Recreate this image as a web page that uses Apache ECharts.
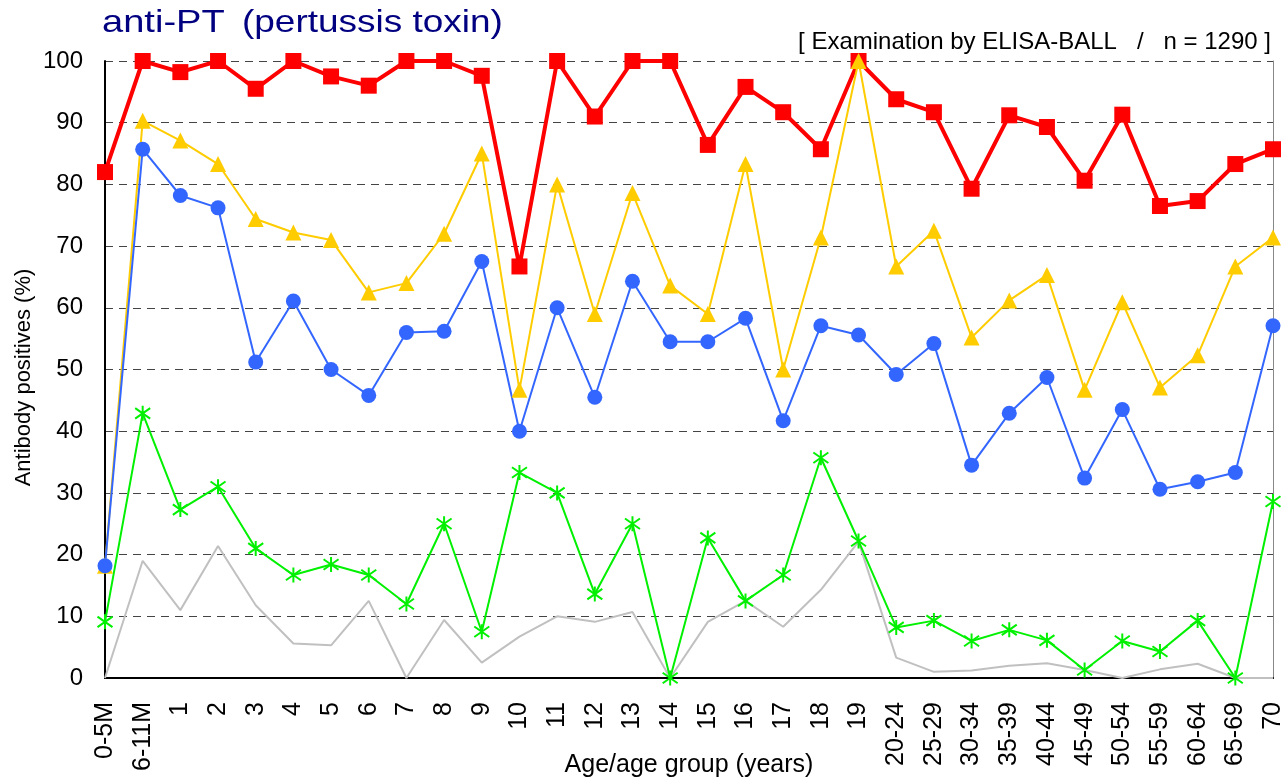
<!DOCTYPE html>
<html>
<head>
<meta charset="utf-8">
<script src="https://cdn.jsdelivr.net/npm/echarts@6/dist/echarts.min.js"></script>
<style>
html,body{margin:0;padding:0;background:#fff;}
#chart{width:1285px;height:783px;}
</style>
</head>
<body>
<div id="chart"></div>
<script>
const categories = ['0-5M','6-11M','1','2','3','4','5','6','7','8','9','10','11','12','13','14','15','16','17','18','19','20-24','25-29','30-34','35-39','40-44','45-49','50-54','55-59','60-64','65-69','70'];
const yTicks = [0,10,20,30,40,50,60,70,80,90,100];
const redSeries = [82,100,98.2,100,95.5,100,97.5,96,100,100,97.6,66.7,100,91,100,100,86.4,95.8,91.7,85.7,100,93.8,91.7,79.3,91.2,89.3,80.6,91.3,76.5,77.3,83.3,85.7];
const yellowSeries = [18.2,90.3,87.1,83.3,74.4,72.2,71,62.5,64,72,85,46.7,80,59,78.6,63.6,59,83.3,50,71.4,100,66.7,72.5,55.2,61.2,65.3,46.7,60.9,47.1,52.3,66.7,71.4];
const blueSeries = [18.2,85.7,78.2,76.2,51.2,61.1,50,45.8,56,56.2,67.5,40,60,45.5,64.3,54.5,54.5,58.3,41.7,57.1,55.6,49.2,54.2,34.5,42.9,48.7,32.4,43.5,30.6,31.8,33.3,57.1];
const greenSeries = [9.1,42.9,27.3,31,21,16.7,18.4,16.7,12,25,7.5,33.3,30,13.6,25,0,22.7,12.5,16.7,35.7,22.2,8.2,9.3,6,7.8,6.1,1.3,6,4.3,9.3,0,28.6];
const graySeries = [0,19,11,21.4,11.8,5.6,5.3,12.5,0,9.4,2.5,6.7,10,9.1,10.7,0,9.1,12.5,8.3,14.3,22.1,3.3,1,1.2,2,2.4,1.3,0,1.4,2.3,0,0];

const FONT = '"Liberation Sans", Arial, sans-serif';
const chart = echarts.init(document.getElementById('chart'));
const asterisk = 'path://M5,0 L5,10 M0,1.5 L10,8.5 M10,1.5 L0,8.5';

chart.setOption({
  animation: false,
  backgroundColor: '#fff',
  graphic: [{
    type: 'text', x: 102, y: 23, scaleX: 1.19,
    style: {text: 'anti-PT', font: '32px ' + FONT, fill: '#000080', textAlign: 'left', textVerticalAlign: 'middle'}
  }, {
    type: 'text', x: 242, y: 23, scaleX: 1.155,
    style: {text: '(pertussis toxin)', font: '32px ' + FONT, fill: '#000080', textAlign: 'left', textVerticalAlign: 'middle'}
  }, {
    type: 'text', x: 1271, y: 42,
    style: {text: '[ Examination by ELISA-BALL   /   n = 1290 ]', font: '24px ' + FONT, fill: '#000', textAlign: 'right', textVerticalAlign: 'middle'}
  }],
  grid: {left: 105, right: 12, top: 61, bottom: 105, containLabel: false, outerBoundsMode: 'none'},
  xAxis: [{
    type: 'category', data: categories, boundaryGap: false,
    axisLine: {show: true, lineStyle: {color: '#000', width: 2}},
    axisTick: {show: false},
    axisLabel: {rotate: 90, fontFamily: FONT, fontSize: 25, color: '#000', margin: 24, interval: 0},
    splitLine: {show: false},
    name: 'Age/age group (years)', nameLocation: 'middle', nameGap: 75, nameMoveOverlap: false,
    nameTextStyle: {fontFamily: FONT, fontSize: 25, color: '#000'}
  }, {
    type: 'category', data: categories, boundaryGap: false, position: 'top',
    axisLine: {show: true, lineStyle: {color: '#000', width: 1}},
    axisTick: {show: false}, axisLabel: {show: false}, splitLine: {show: false}
  }],
  yAxis: [{
    type: 'value', min: 0, max: 100, interval: 10,
    axisLine: {show: true, lineStyle: {color: '#000', width: 2}},
    axisTick: {show: false},
    axisLabel: {fontFamily: FONT, fontSize: 24, color: '#000', margin: 22,
      formatter: v => yTicks.includes(v) ? String(v) : ''},
    splitLine: {show: true, lineStyle: {color: '#444', width: 1, type: [8, 6]}},
    name: 'Antibody positives (%)', nameLocation: 'middle', nameGap: 70, nameMoveOverlap: false,
    nameTextStyle: {fontFamily: FONT, fontSize: 22, color: '#000', padding: [0, 16, 0, 0]}
  }, {
    type: 'value', min: 0, max: 100, interval: 10, position: 'right',
    axisLine: {show: true, lineStyle: {color: '#888', width: 1}},
    axisTick: {show: false}, axisLabel: {show: false}, splitLine: {show: false}
  }],
  series: [{
    name: 'gray', type: 'line', data: graySeries, symbol: 'none',
    lineStyle: {color: '#C0C0C0', width: 2}
  }, {
    name: 'green', type: 'line', data: greenSeries, symbol: asterisk, symbolSize: 15,
    lineStyle: {color: '#00F000', width: 2},
    itemStyle: {color: 'none', borderColor: '#00F000', borderWidth: 2}
  }, {
    name: 'red', type: 'line', data: redSeries, symbol: 'rect', symbolSize: 16,
    lineStyle: {color: '#FF0000', width: 4},
    itemStyle: {color: '#FF0000'}
  }, {
    name: 'yellow', type: 'line', data: yellowSeries, symbol: 'triangle', symbolSize: 16,
    lineStyle: {color: '#FFCC00', width: 2},
    itemStyle: {color: '#FFCC00'}
  }, {
    name: 'blue', type: 'line', data: blueSeries, symbol: 'circle', symbolSize: 15,
    lineStyle: {color: '#3366FF', width: 2},
    itemStyle: {color: '#3366FF'}
  }]
});
</script>
</body>
</html>
